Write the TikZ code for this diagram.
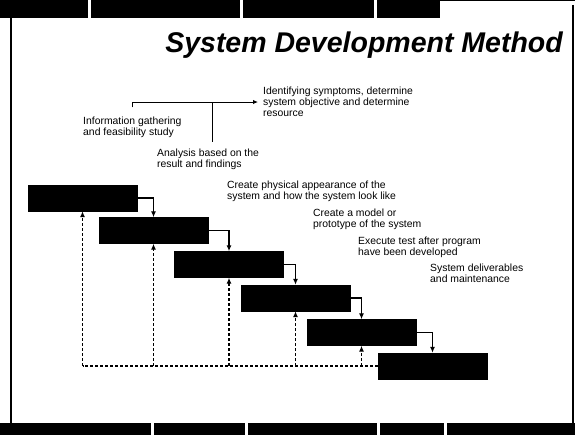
\documentclass[tikz,border=0pt]{standalone}
\usepackage{fontspec}
\setmainfont{Liberation Sans}
\usetikzlibrary{arrows.meta}

\tikzset{
	phase/.style={fill=black, draw=black, minimum width=109pt, minimum height=26pt, inner sep=0pt},
	note/.style={align=left, inner sep=0pt, anchor=north west, font=\fontsize{10.4}{11}\selectfont},
	flow/.style={line width=1.3pt, -{Latex[length=6pt,width=5pt]}},
	back/.style={line width=1.3pt, dash pattern=on 3pt off 2pt, -{Latex[length=6pt,width=5pt]}}
}

\begin{document}
\begin{tikzpicture}[x=1pt, y=-1pt]
	\useasboundingbox (0,0) rectangle (575,435);
	\fill[white] (0,0) rectangle (575,435);
	% slide frame
	\foreach \a/\b in {0/88, 91/240, 243/374, 377/440}
		\fill[black] (\a,0) rectangle (\b,18);
	\fill[black] (440,0) rectangle (575,1.5);
	\foreach \a/\b in {0/151, 154/245, 248/377, 380/444, 447/575}
		\fill[black] (\a,423) rectangle (\b,435);
	\draw[line width=2.5pt] (11,18) -- (11,423);
	\draw[line width=2pt] (573,5) -- (573,423);
	\node[anchor=base east, inner sep=0pt, font=\fontsize{28.5}{30}\selectfont\bfseries\itshape] (title) at (563,53) {System Development Method};

	% phases
	\foreach \n/\x/\y in {1/82.5/198, 2/153.5/230.5, 3/229/264.5, 4/295.5/298, 5/361.5/332.5, 6/432.5/366}
		\node[phase] (p\n) at (\x,\y) {};
	\foreach \a/\b in {1/2, 2/3, 3/4, 4/5, 5/6}
		\draw[flow] (p\a.east) -| (p\b.north);
	\draw[line width=1.3pt, dash pattern=on 3pt off 2pt] (p6.west) -- (p6.west -| p1.south);
	\foreach \n in {1,...,5}
		\draw[back] (p6.west -| p\n.south) -- (p\n.south);

	% descriptions
	\node[note] (info) at (83,116.4) {Information gathering\\and feasibility study};
	\node[note] (ident) at (263,87) {Identifying symptoms, determine\\system objective and determine\\resource};
	\node[note] (analysis) at (157,149) {Analysis based on the\\result and findings};
	\node[note] (design) at (227,181) {Create physical appearance of the\\system and how the system look like};
	\node[note] (proto) at (313,209) {Create a model or\\prototype of the system};
	\node[note] (test) at (358,237) {Execute test after program\\have been developed};
	\node[note] (deliver) at (430,264) {System deliverables\\and maintenance};
	\coordinate (split) at ([xshift=4pt]analysis.north |- ident.west);
	\draw[line width=1pt, -{Latex[length=5pt,width=4.5pt]}, shorten >=5pt] ([yshift=9pt]info.north) |- (ident.west);
	\draw[line width=1pt] ([xshift=4pt, yshift=7pt]analysis.north) -- (split);
\end{tikzpicture}
\end{document}
